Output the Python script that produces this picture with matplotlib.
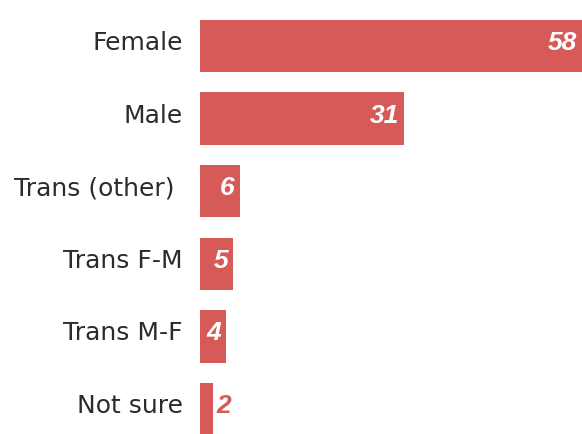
import matplotlib
matplotlib.use("Agg")
import matplotlib.pyplot as plt

# data
categories = ["Female", "Male", "Trans (other) ", "Trans F-M", "Trans M-F", "Not sure"]
values = [58, 31, 6, 5, 4, 2]

BAR_COLOR = "#d55a58"

fig = plt.figure(figsize=(5.82, 4.34), dpi=100)
ax = fig.add_axes([200 / 582, 0, 382 / 582, 1])

pos = list(range(len(categories)))
ax.barh(pos, values, height=0.72, color=BAR_COLOR)

ax.set_xlim(0, 58)
ax.set_ylim(5.344, -0.634)
ax.set_xticks([])
ax.set_yticks([])
for s in ax.spines.values():
    s.set_visible(False)

# category labels
for p, c in zip(pos, categories):
    ax.annotate(c, (0, p), xytext=(-17, 3), textcoords="offset pixels",
                ha="right", va="center", color="#2b2b2b", fontsize=18,
                family="DejaVu Sans", annotation_clip=False)

# value labels
for p, v in zip(pos, values):
    if v >= 4:
        ax.annotate(str(v), (v, p), xytext=(-5, 3), textcoords="offset pixels",
                    ha="right", va="center", color="white", fontsize=19,
                    fontweight="bold", fontstyle="italic", family="Liberation Sans")
    else:
        ax.annotate(str(v), (v, p), xytext=(3, 3), textcoords="offset pixels",
                    ha="left", va="center", color=BAR_COLOR, fontsize=19,
                    fontweight="bold", fontstyle="italic", family="Liberation Sans")

fig.savefig("out.png", dpi=100)
